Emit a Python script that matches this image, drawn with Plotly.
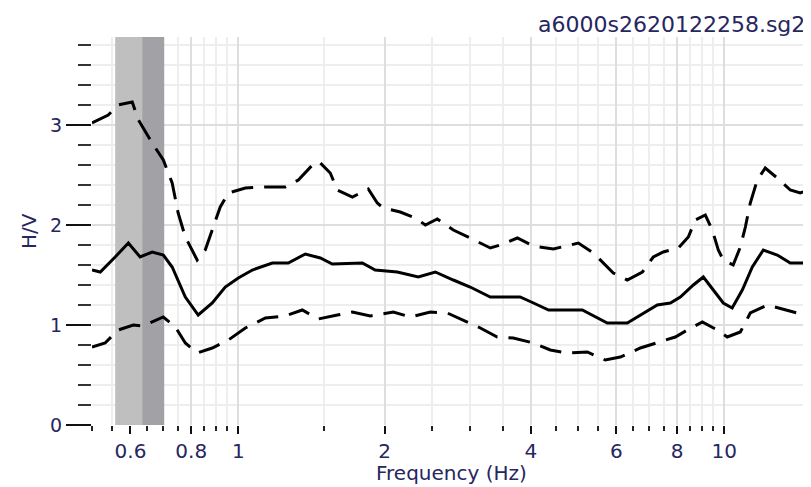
import math
import plotly.graph_objects as go

# ---- data ----
freq_mean = [0.500, 0.520, 0.558, 0.594, 0.628, 0.665, 0.701, 0.731, 0.778, 0.827,
             0.884, 0.940, 1.000, 1.069, 1.175, 1.267, 1.374, 1.475, 1.561, 1.800,
             1.913, 2.124, 2.346, 2.543, 2.770, 3.000, 3.300, 3.800, 4.050, 4.350,
             5.104, 5.744, 6.315, 6.813, 7.280, 7.743, 8.120, 8.636, 9.055, 9.493,
             9.953, 10.38, 10.89, 11.42, 12.03, 12.85, 13.67, 14.54, 15.03]
hv_mean = [1.55, 1.53, 1.68, 1.82, 1.68, 1.73, 1.70, 1.58, 1.28, 1.10,
           1.22, 1.38, 1.47, 1.55, 1.62, 1.62, 1.71, 1.67, 1.61, 1.62,
           1.55, 1.53, 1.48, 1.53, 1.45, 1.38, 1.28, 1.28, 1.22, 1.15,
           1.15, 1.02, 1.02, 1.12, 1.20, 1.22, 1.28, 1.40, 1.48, 1.35,
           1.22, 1.17, 1.35, 1.58, 1.75, 1.70, 1.62, 1.62, 1.67]

freq_upper = [0.500, 0.540, 0.566, 0.605, 0.623, 0.665, 0.701, 0.731, 0.752, 0.778,
              0.823, 0.855, 0.888, 0.918, 0.954, 1.034, 1.137, 1.249, 1.329, 1.440,
              1.475, 1.546, 1.599, 1.717, 1.851, 1.932, 1.988, 2.154, 2.313, 2.426,
              2.567, 2.770, 3.001, 3.300, 3.460, 3.751, 4.046, 4.449, 4.821, 5.008,
              5.377, 5.637, 5.910, 6.315, 6.783, 7.144, 7.490, 8.042, 8.433, 8.718,
              9.140, 9.447, 9.720, 9.953, 10.43, 10.79, 11.05, 11.31, 11.69, 12.14,
              12.85, 13.67, 14.33, 14.89]
hv_upper = [3.02, 3.10, 3.20, 3.23, 3.05, 2.82, 2.65, 2.42, 2.12, 1.88,
            1.65, 1.75, 1.98, 2.18, 2.32, 2.37, 2.38, 2.38, 2.45, 2.63,
            2.62, 2.52, 2.35, 2.28, 2.36, 2.22, 2.17, 2.13, 2.07, 2.00,
            2.06, 1.95, 1.87, 1.77, 1.80, 1.87, 1.79, 1.76, 1.80, 1.82,
            1.72, 1.62, 1.52, 1.45, 1.53, 1.68, 1.73, 1.77, 1.88, 2.05,
            2.10, 1.95, 1.75, 1.65, 1.60, 1.78, 1.98, 2.22, 2.45, 2.57,
            2.47, 2.35, 2.32, 2.35]

freq_lower = [0.500, 0.532, 0.566, 0.608, 0.637, 0.701, 0.742, 0.778, 0.823, 0.884,
              0.954, 1.034, 1.137, 1.249, 1.354, 1.461, 1.599, 1.717, 1.869, 2.084,
              2.259, 2.484, 2.692, 2.904, 3.148, 3.411, 3.680, 4.046, 4.386, 4.753,
              5.226, 5.690, 6.109, 6.719, 7.280, 7.929, 8.393, 9.012, 9.674, 10.14,
              10.79, 11.31, 12.26, 13.48, 14.13, 14.89]
hv_lower = [0.78, 0.82, 0.95, 1.00, 0.99, 1.08, 0.98, 0.82, 0.72, 0.77,
            0.85, 0.97, 1.07, 1.09, 1.15, 1.06, 1.10, 1.13, 1.09, 1.13,
            1.08, 1.13, 1.12, 1.05, 0.97, 0.88, 0.87, 0.82, 0.75, 0.72,
            0.73, 0.65, 0.68, 0.77, 0.82, 0.88, 0.95, 1.03, 0.95, 0.88,
            0.93, 1.12, 1.20, 1.15, 1.12, 1.14]

# f0 band (light: f0/std .. f0, dark: f0 .. f0*std)
band_low = 0.558
band_f0 = 0.634
band_high = 0.704

y_max = 3.88
x_major = [0.6, 0.8, 1, 2, 4, 6, 8, 10]
x_major_text = ["0.6", "0.8", "1", "2", "4", "6", "8", "10"]
x_minor = [0.5, 0.55, 0.65, 0.7, 0.75, 0.85, 0.9, 0.95, 1.5, 2.5, 3, 3.5,
           4.5, 5, 5.5, 6.5, 7, 7.5, 8.5, 9, 9.5, 15]

title_text = "a6000s2620122258.sg2"
x_title = "Frequency (Hz)"
y_title = "H/V"

TXT = "#262660"
FONT = "DejaVu Sans"

fig = go.Figure()
# f0 band as filled areas (drawn above the grid, below the curves)
fig.add_trace(go.Scatter(x=[band_low, band_low, band_f0, band_f0],
                         y=[0, y_max, y_max, 0], mode="none", fill="toself",
                         fillcolor="#bfbfbf", showlegend=False, hoverinfo="skip"))
fig.add_trace(go.Scatter(x=[band_f0, band_f0, band_high, band_high],
                         y=[0, y_max, y_max, 0], mode="none", fill="toself",
                         fillcolor="#a2a2a6", showlegend=False, hoverinfo="skip"))

fig.add_trace(go.Scatter(x=freq_upper, y=hv_upper, mode="lines",
                         line=dict(color="black", width=3, dash="22px,11px"),
                         showlegend=False, hoverinfo="skip"))
fig.add_trace(go.Scatter(x=freq_lower, y=hv_lower, mode="lines",
                         line=dict(color="black", width=3, dash="22px,11px"),
                         showlegend=False, hoverinfo="skip"))
fig.add_trace(go.Scatter(x=freq_mean, y=hv_mean, mode="lines",
                         line=dict(color="black", width=3),
                         showlegend=False, hoverinfo="skip"))

fig.add_annotation(text=title_text, xref="paper", yref="paper",
                   x=0.9944, y=1.031, xanchor="right", yanchor="middle",
                   showarrow=False, font=dict(family=FONT, size=22, color=TXT))
fig.add_annotation(text=x_title, xref="paper", yref="paper",
                   x=0.5, y=-0.124, xanchor="center", yanchor="middle",
                   showarrow=False, font=dict(family=FONT, size=20, color=TXT))
fig.add_annotation(text=y_title, xref="paper", yref="paper",
                   x=-0.0876, y=0.5, xanchor="center", yanchor="middle",
                   textangle=-90, showarrow=False,
                   font=dict(family=FONT, size=20, color=TXT))

fig.update_xaxes(type="log", range=[math.log10(0.5), math.log10(15.08)],
                 tickmode="array", tickvals=x_major, ticktext=x_major_text,
                 ticks="outside", ticklen=8, tickwidth=2, tickcolor="#111",
                 showgrid=True, gridcolor="#dedede", gridwidth=2,
                 showline=False, zeroline=False,
                 tickfont=dict(family=FONT, size=20, color=TXT),
                 minor=dict(tickmode="array", tickvals=x_minor, ticks="outside",
                            ticklen=5, tickwidth=2, tickcolor="#222",
                            showgrid=True, gridcolor="#eeeeee", gridwidth=2))
fig.update_yaxes(range=[0, y_max], tickmode="linear", tick0=0, dtick=1,
                 ticks="outside", ticklen=25, tickwidth=1.5, tickcolor="#111",
                 showgrid=True, gridcolor="#dedede", gridwidth=2,
                 showline=False, zeroline=False,
                 tickfont=dict(family=FONT, size=19, color=TXT),
                 minor=dict(dtick=0.2, ticks="outside", ticklen=13, tickwidth=2,
                            tickcolor="#333", showgrid=True, gridcolor="#eeeeee",
                            gridwidth=2))

# the page places the figure 8 px from the top-left corner,
# so the figure is 8 px smaller and the margins are reduced to match
fig.update_layout(width=803, height=479, margin=dict(l=84, r=0, t=29, b=62),
                  paper_bgcolor="white", plot_bgcolor="white",
                  font=dict(family=FONT, color=TXT))

fig.write_html("out.html")
